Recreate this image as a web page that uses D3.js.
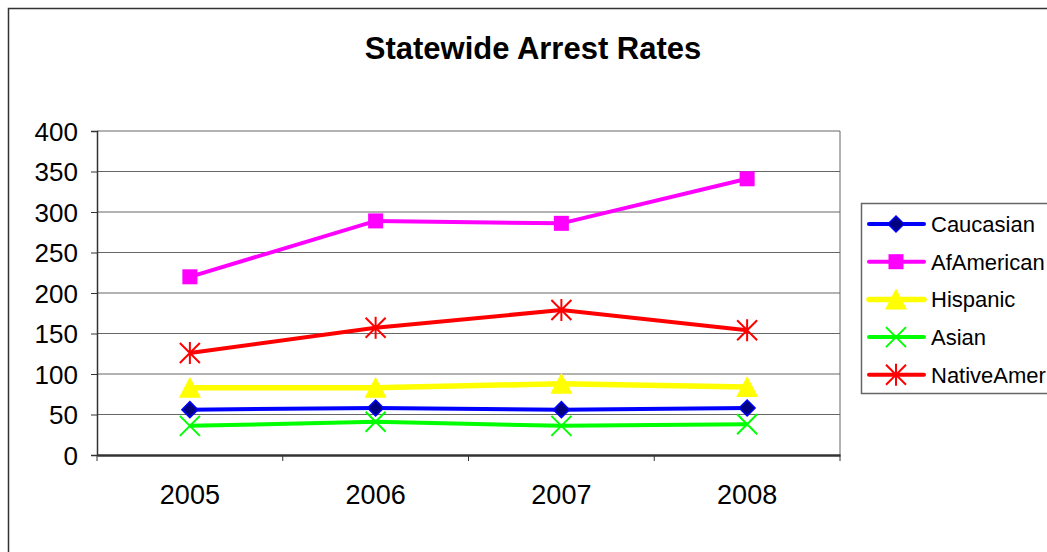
<!DOCTYPE html>
<html>
<head>
<meta charset="utf-8">
<script src="https://cdnjs.cloudflare.com/ajax/libs/d3/7.8.5/d3.min.js"></script>
<style>
  body { margin: 0; background: #fff; }
  text { font-family: "Liberation Sans", Arial, sans-serif; }
</style>
</head>
<body>
<div id="chart"></div>
<script>
const years = ['2005', '2006', '2007', '2008'];
const caucasian = [56, 58, 56, 58];
const afAmerican = [220, 289, 286, 341];
const hispanic = [83, 83, 88, 84];
const asian = [36, 41, 36, 38];
const nativeAmer = [126, 157, 179, 154];
const yTicks = [0, 50, 100, 150, 200, 250, 300, 350, 400];

const series = [
  { name: 'Caucasian', values: caucasian, color: '#0000ff', marker: 'diamond', width: 4 },
  { name: 'AfAmerican', values: afAmerican, color: '#ff00ff', marker: 'square', width: 4 },
  { name: 'Hispanic', values: hispanic, color: '#ffff00', marker: 'triangle', width: 5.5 },
  { name: 'Asian', values: asian, color: '#00ff00', marker: 'x', width: 4 },
  { name: 'NativeAmer', values: nativeAmer, color: '#ff0000', marker: 'star', width: 4 }
];

const width = 1047;
const height = 552;
const plot = { left: 97, right: 840, top: 131, bottom: 455 };

const svg = d3.select('#chart')
  .append('svg')
  .attr('width', width)
  .attr('height', height);

// outer chart border
svg.append('rect')
  .attr('x', 8.5)
  .attr('y', 8.5)
  .attr('width', width + 10)
  .attr('height', height + 10)
  .attr('fill', '#fff')
  .attr('stroke', '#333')
  .attr('stroke-width', 1.5);

const xScale = d3.scaleBand()
  .domain(years)
  .range([plot.left, plot.right]);

const yScale = d3.scaleLinear()
  .domain([0, 400])
  .range([plot.bottom, plot.top]);

// gridlines
svg.append('g')
  .selectAll('line')
  .data(yTicks.filter(d => d > 0))
  .enter()
  .append('line')
  .attr('x1', plot.left)
  .attr('x2', plot.right)
  .attr('y1', d => yScale(d))
  .attr('y2', d => yScale(d))
  .attr('stroke', '#666')
  .attr('stroke-width', 1);

// right edge of plot area
svg.append('line')
  .attr('x1', plot.right).attr('x2', plot.right)
  .attr('y1', plot.top).attr('y2', plot.bottom)
  .attr('stroke', '#666');

// y axis
const yAxis = svg.append('g')
  .attr('transform', `translate(${plot.left},0)`)
  .call(d3.axisLeft(yScale).tickValues(yTicks).tickSize(6).tickPadding(13));
yAxis.select('.domain').attr('stroke', '#333').attr('stroke-width', 1.5);
yAxis.selectAll('.tick line').attr('stroke', '#333');
yAxis.selectAll('text')
  .style('font-size', '26px')
  .attr('dy', '0.36em')
  .attr('fill', '#000');

// x axis
const xTickPos = [plot.left, ...years.map(y => xScale(y) + xScale.bandwidth())];
const xAxis = svg.append('g')
  .attr('transform', `translate(0,${plot.bottom})`)
  .call(d3.axisBottom(xScale).tickSize(0).tickPadding(30));
xAxis.select('.domain').attr('stroke', '#333').attr('stroke-width', 2.5);
xAxis.selectAll('text')
  .style('font-size', '27px')
  .attr('fill', '#000');
xAxis.selectAll('.boundary')
  .data(xTickPos)
  .enter()
  .append('line')
  .attr('x1', d => d).attr('x2', d => d)
  .attr('y1', 0).attr('y2', 6)
  .attr('stroke', '#333');

// title
svg.append('text')
  .attr('x', 533)
  .attr('y', 59)
  .attr('text-anchor', 'middle')
  .style('font-size', '31px')
  .style('font-weight', 'bold')
  .text('Statewide Arrest Rates');

function drawMarker(g, s, cx, cy) {
  if (s.marker === 'diamond') {
    g.append('path')
      .attr('d', `M${cx},${cy - 8}L${cx + 8},${cy}L${cx},${cy + 8}L${cx - 8},${cy}Z`)
      .attr('fill', '#000080')
      .attr('stroke', '#0000ff')
      .attr('stroke-width', 1.5);
  } else if (s.marker === 'square') {
    g.append('rect')
      .attr('x', cx - 7.5).attr('y', cy - 7.5)
      .attr('width', 15).attr('height', 15)
      .attr('fill', s.color);
  } else if (s.marker === 'triangle') {
    g.append('path')
      .attr('d', `M${cx},${cy - 11}L${cx + 11},${cy + 10}L${cx - 11},${cy + 10}Z`)
      .attr('fill', s.color);
  } else if (s.marker === 'x') {
    g.append('path')
      .attr('d', `M${cx - 10},${cy - 10}L${cx + 10},${cy + 10}M${cx + 10},${cy - 10}L${cx - 10},${cy + 10}`)
      .attr('stroke', s.color)
      .attr('stroke-width', 2);
  } else if (s.marker === 'star') {
    g.append('path')
      .attr('d', `M${cx - 10},${cy - 10}L${cx + 10},${cy + 10}M${cx + 10},${cy - 10}L${cx - 10},${cy + 10}M${cx},${cy - 11}L${cx},${cy + 11}`)
      .attr('stroke', s.color)
      .attr('stroke-width', 2);
  }
}

const line = d3.line()
  .x((d, i) => xScale(years[i]) + xScale.bandwidth() / 2)
  .y(d => yScale(d));

series.forEach(s => {
  const g = svg.append('g');
  g.append('path')
    .attr('d', line(s.values))
    .attr('fill', 'none')
    .attr('stroke', s.color)
    .attr('stroke-width', s.width);
  s.values.forEach((v, i) => {
    drawMarker(g, s, xScale(years[i]) + xScale.bandwidth() / 2, yScale(v));
  });
});

// legend
const legend = svg.append('g');
legend.append('rect')
  .attr('x', 861.5)
  .attr('y', 203.5)
  .attr('width', 200)
  .attr('height', 190)
  .attr('fill', '#fff')
  .attr('stroke', '#666')
  .attr('stroke-width', 1.5);

series.forEach((s, i) => {
  const y = 224 + i * 37.7;
  legend.append('line')
    .attr('x1', 869).attr('x2', 924)
    .attr('y1', y).attr('y2', y)
    .attr('stroke', s.color)
    .attr('stroke-width', s.width)
    .attr('stroke-linecap', 'round');
  drawMarker(legend, s, 896, y);
  legend.append('text')
    .attr('x', 931)
    .attr('y', y + 8)
    .style('font-size', '22px')
    .text(s.name);
});
</script>
</body>
</html>
